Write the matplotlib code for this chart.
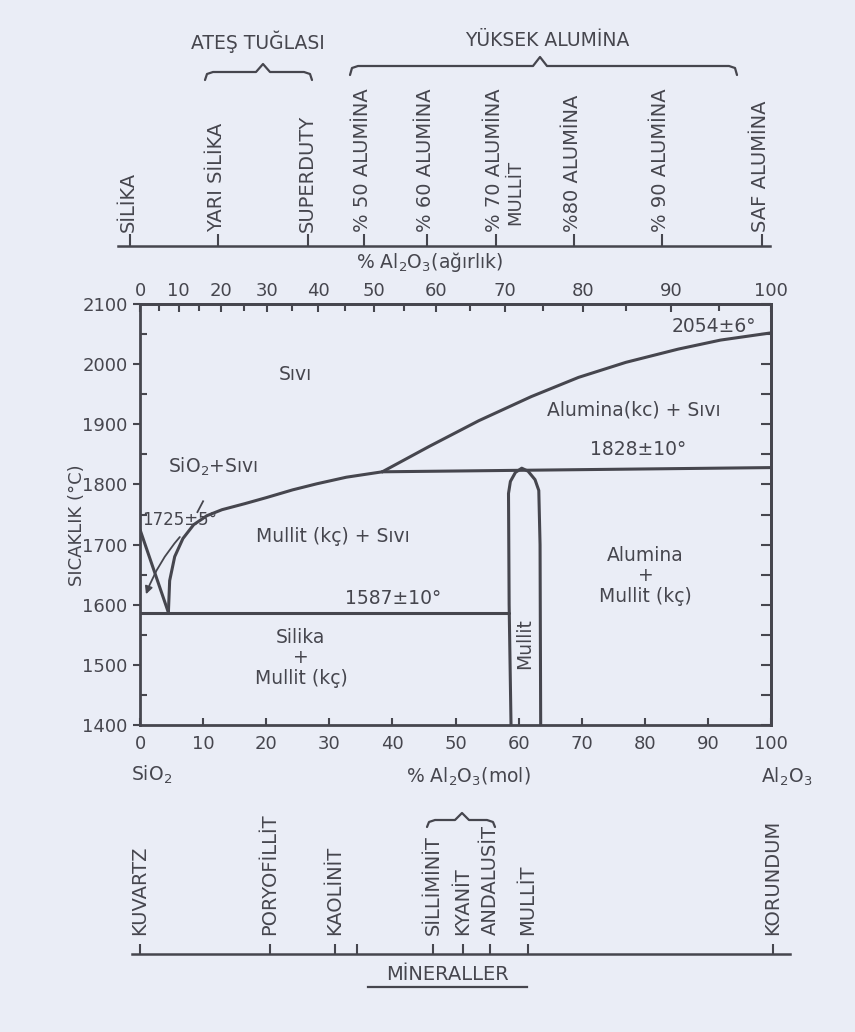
import numpy as np
import matplotlib
matplotlib.use("Agg")
import matplotlib.pyplot as plt
from matplotlib.ticker import FixedLocator

BG = "#eaedf6"
INK = "#46464e"
plt.rcParams["font.family"] = ["DejaVu Sans"]
plt.rcParams["mathtext.fontset"] = "dejavusans"

# molar masses, used only for the mol% <-> weight% axis scale
M_AL2O3 = 101.96
M_SIO2 = 60.08


def mol_to_wt(m):
    m = np.asarray(m, dtype=float)
    with np.errstate(divide="ignore", invalid="ignore"):
        a = m * M_AL2O3
        return 100 * a / (a + (100 - m) * M_SIO2)


def wt_to_mol(w):
    w = np.asarray(w, dtype=float)
    with np.errstate(divide="ignore", invalid="ignore"):
        a = w / M_AL2O3
        return 100 * a / (a + (100 - w) / M_SIO2)


# ---- phase boundaries (mol % Al2O3, temperature in C) ----
silica_liq_x = [0, 4.5]
silica_liq_t = [1725, 1587]

mullite_liq_x = [4.5, 4.7, 5.5, 6.8, 8.5, 10.6, 13, 16.6, 20, 24.2, 28, 32.7, 38.4]
mullite_liq_t = [1587, 1640, 1680, 1710, 1733, 1748, 1758, 1768, 1778, 1791, 1801, 1812, 1821]

alumina_liq_x = [38.4, 45.8, 53.7, 62, 69.5, 77, 85.3, 92, 100]
alumina_liq_t = [1821, 1863, 1906, 1946, 1978, 2003, 2025, 2040, 2052]

peritectic_x = [38.4, 100]
peritectic_t = [1821, 1828]

eutectic_x = [0, 58.5]
eutectic_t = [1587, 1587]

mullite_x = [58.8, 58.5, 58.4, 58.7, 59.5, 60.5, 61.5, 62.6, 63.2, 63.4, 63.5]
mullite_t = [1400, 1600, 1785, 1805, 1820, 1827, 1822, 1808, 1790, 1700, 1400]

# ---- axes ticks ----
temp_ticks = [1400, 1500, 1600, 1700, 1800, 1900, 2000, 2100]
temp_minor = [1450, 1550, 1650, 1750, 1850, 1950, 2050]
mol_ticks = [0, 10, 20, 30, 40, 50, 60, 70, 80, 90, 100]
wt_ticks = [0, 10, 20, 30, 40, 50, 60, 70, 80, 90, 100]
wt_minor = [5, 15, 25, 35, 45, 55, 65, 75, 85, 95]

# refractory products on the weight % scale
brick_names = ["SİLİKA", "YARI SİLİKA", "SUPERDUTY", "% 50 ALUMİNA", "% 60 ALUMİNA",
               "% 70 ALUMİNA", "%80 ALUMİNA", "% 90 ALUMİNA", "SAF ALUMİNA"]
brick_wt = [0, 21.5, 40, 50, 60, 70, 80, 90, 100]

# minerals on the mol % scale
mineral_names = ["KUVARTZ", "PORYOFİLLİT", "KAOLİNİT", "SİLLİMİNİT", "KYANİT",
                 "ANDALUSİT", "MULLİT", "KORUNDUM"]
mineral_mol = [0, 20.5, 30.8, 46.3, 51.0, 55.3, 61.3, 100]
mineral_extra_tick = [34.3]

W, H = 855, 1032
fig = plt.figure(figsize=(W / 100, H / 100), dpi=100, facecolor=BG)


def fbox(x0, y0, x1, y1):
    # pixel box (top-left origin) -> figure fraction rect
    return [x0 / W, 1 - y1 / H, (x1 - x0) / W, (y1 - y0) / H]


# overlay for braces and header text
deco = fig.add_axes([0, 0, 1, 1], facecolor="none")
deco.set_xlim(0, W)
deco.set_ylim(H, 0)
deco.axis("off")


def brace(x0, x1, y, h, xm=None):
    if xm is None:
        xm = (x0 + x1) / 2
    r = 8
    a = 7
    xs = [x0, x0 + 2, x0 + r, xm - a, xm, xm + a, x1 - r, x1 - 2, x1]
    ys = [y + h, y + 2, y, y, y - h, y, y, y + 2, y + h]
    deco.plot(xs, ys, color=INK, lw=1.6, solid_capstyle="round")


brace(205, 312, 72, 8, xm=263)
brace(350, 737, 66, 9, xm=540)
brace(427, 495, 820, 7, xm=462)
deco.text(258, 42, "ATEŞ TUĞLASI", ha="center", va="center", fontsize=13.5, color=INK)
deco.text(547, 40, "YÜKSEK ALUMİNA", ha="center", va="center", fontsize=13.5, color=INK)
deco.text(447, 974, "MİNERALLER", ha="center", va="center", fontsize=14, color=INK)
deco.plot([368, 527], [987, 987], color=INK, lw=1.6)
deco.text(430, 262, "% Al$_2$O$_3$(ağırlık)", ha="center", va="center", fontsize=13.5, color=INK)

# ---- main phase diagram ----
ax = fig.add_axes(fbox(140, 304, 771, 725))
ax.set_facecolor("none")
ax.set_xlim(0, 100)
ax.set_ylim(1400, 2100)
for s in ax.spines.values():
    s.set_linewidth(2.0)
    s.set_color(INK)

lk = dict(color=INK, lw=2.2, solid_capstyle="round", solid_joinstyle="round")
ax.plot(silica_liq_x, silica_liq_t, **lk)
ax.plot(mullite_liq_x, mullite_liq_t, **lk)
ax.plot(alumina_liq_x, alumina_liq_t, **lk)
ax.plot(peritectic_x, peritectic_t, **lk)
ax.plot(eutectic_x, eutectic_t, **lk)
ax.plot(mullite_x, mullite_t, **lk)

ax.set_xticks(mol_ticks)
ax.tick_params(axis="x", direction="in", length=5, width=1.5, pad=7,
               labelsize=13, colors=INK)
ax.set_yticks(temp_ticks)
ax.yaxis.set_minor_locator(FixedLocator(temp_minor))
ax.tick_params(axis="y", which="major", direction="out", length=5, width=1.5,
               pad=4, labelsize=13, colors=INK)
ax.tick_params(axis="y", which="minor", direction="in", length=5, width=1.5, colors=INK)

sec_r = ax.secondary_yaxis("right")
sec_r.set_yticks(temp_ticks + temp_minor)
sec_r.tick_params(direction="in", length=7, width=1.5, colors=INK, labelright=False)
sec_r.spines["right"].set_linewidth(2.0)
sec_r.spines["right"].set_color(INK)

sec_t = ax.secondary_xaxis("top", functions=(mol_to_wt, wt_to_mol))
sec_t.set_xticks(wt_ticks)
sec_t.xaxis.set_minor_locator(FixedLocator(wt_minor))
sec_t.tick_params(which="major", direction="in", length=6, width=1.5, pad=3,
                  labelsize=13, colors=INK)
sec_t.tick_params(which="minor", direction="in", length=5, width=1.5, colors=INK)
sec_t.spines["top"].set_linewidth(2.0)
sec_t.spines["top"].set_color(INK)

ax.set_ylabel("SICAKLIK (°C)", fontsize=13, color=INK)
ax.yaxis.set_label_coords(-0.085, 0.475)

tk = dict(ha="center", va="center", fontsize=13.5, color=INK)
ax.text(24.6, 1982, "Sıvı", **tk)
ax.text(11.6, 1829, "SiO$_2$+Sıvı", **tk)
ax.text(78.2, 1923, "Alumina(kc) + Sıvı", **tk)
ax.text(79.0, 1858, "1828±10°", **tk)
ax.text(91.0, 2062, "2054±6°", **tk)
ax.text(30.6, 1714, "Mullit (kç) + Sıvı", **tk)
ax.text(40.1, 1610, "1587±10°", **tk)
ax.text(0.3, 1741, "1725±5°", ha="left", va="center", fontsize=12, color=INK)
ax.text(25.5, 1512, "Silika\n+\nMullit (kç)", linespacing=1.1, **tk)
ax.text(80.1, 1648, "Alumina\n+\nMullit (kç)", linespacing=1.1, **tk)
ax.text(61.0, 1536, "Mullit", rotation=90, **tk)
ax.annotate("", xy=(0.8, 1613), xytext=(6.6, 1716),
            arrowprops=dict(arrowstyle="-|>", color=INK, lw=1.3,
                            mutation_scale=11, connectionstyle="arc3,rad=0.1"))
ax.plot([10.0, 9.1], [1772, 1754], color=INK, lw=1.3)

ax.annotate("SiO$_2$", xy=(1.9, 0), xycoords=("data", "axes fraction"),
            xytext=(0, -36), textcoords="offset points", **tk)
ax.annotate("Al$_2$O$_3$", xy=(102.5, 0), xycoords=("data", "axes fraction"),
            xytext=(0, -37), textcoords="offset points", **tk)
ax.annotate("% Al$_2$O$_3$(mol)", xy=(52, 0), xycoords=("data", "axes fraction"),
            xytext=(0, -37), textcoords="offset points", **tk)

# ---- weight % product scale (top) ----
axw = fig.add_axes(fbox(118, 90, 770, 245.5), facecolor="none")
axw.set_xscale("function", functions=(wt_to_mol, mol_to_wt))
axw.set_xlim(float(mol_to_wt(-1.9)), float(mol_to_wt(101.27)))
axw.set_ylim(0, 1)
for k in ["top", "left", "right"]:
    axw.spines[k].set_visible(False)
axw.spines["bottom"].set_linewidth(1.8)
axw.spines["bottom"].set_color(INK)
axw.set_yticks([])
axw.set_xticks(brick_wt)
axw.xaxis.set_minor_locator(FixedLocator([]))
axw.tick_params(axis="x", direction="in", length=9, width=1.5, colors=INK, labelbottom=False)
for x, name in zip(brick_wt, brick_names):
    axw.annotate(name, xy=(x, 0), xycoords=("data", "axes fraction"),
                 xytext=(-1, 10), textcoords="offset points", rotation=90,
                 ha="center", va="bottom", fontsize=14, color=INK)
axw.annotate("MULLİT", xy=(70, 0), xycoords=("data", "axes fraction"),
             xytext=(14, 15), textcoords="offset points", rotation=90,
             ha="center", va="bottom", fontsize=13, color=INK)

# ---- minerals scale (bottom) ----
axm = fig.add_axes(fbox(132, 850, 790, 954), facecolor="none")
axm.set_xlim(-1.26, 102.7)
axm.set_ylim(0, 1)
for k in ["top", "left", "right"]:
    axm.spines[k].set_visible(False)
axm.spines["bottom"].set_linewidth(1.8)
axm.spines["bottom"].set_color(INK)
axm.set_yticks([])
axm.set_xticks(mineral_mol + mineral_extra_tick)
axm.tick_params(axis="x", direction="in", length=7, width=1.5, colors=INK, labelbottom=False)
for x, name in zip(mineral_mol, mineral_names):
    axm.annotate(name, xy=(x, 0), xycoords=("data", "axes fraction"),
                 xytext=(0, 14), textcoords="offset points", rotation=90,
                 ha="center", va="bottom", fontsize=14, color=INK)

fig.savefig("out.png", dpi=100, facecolor=BG)
